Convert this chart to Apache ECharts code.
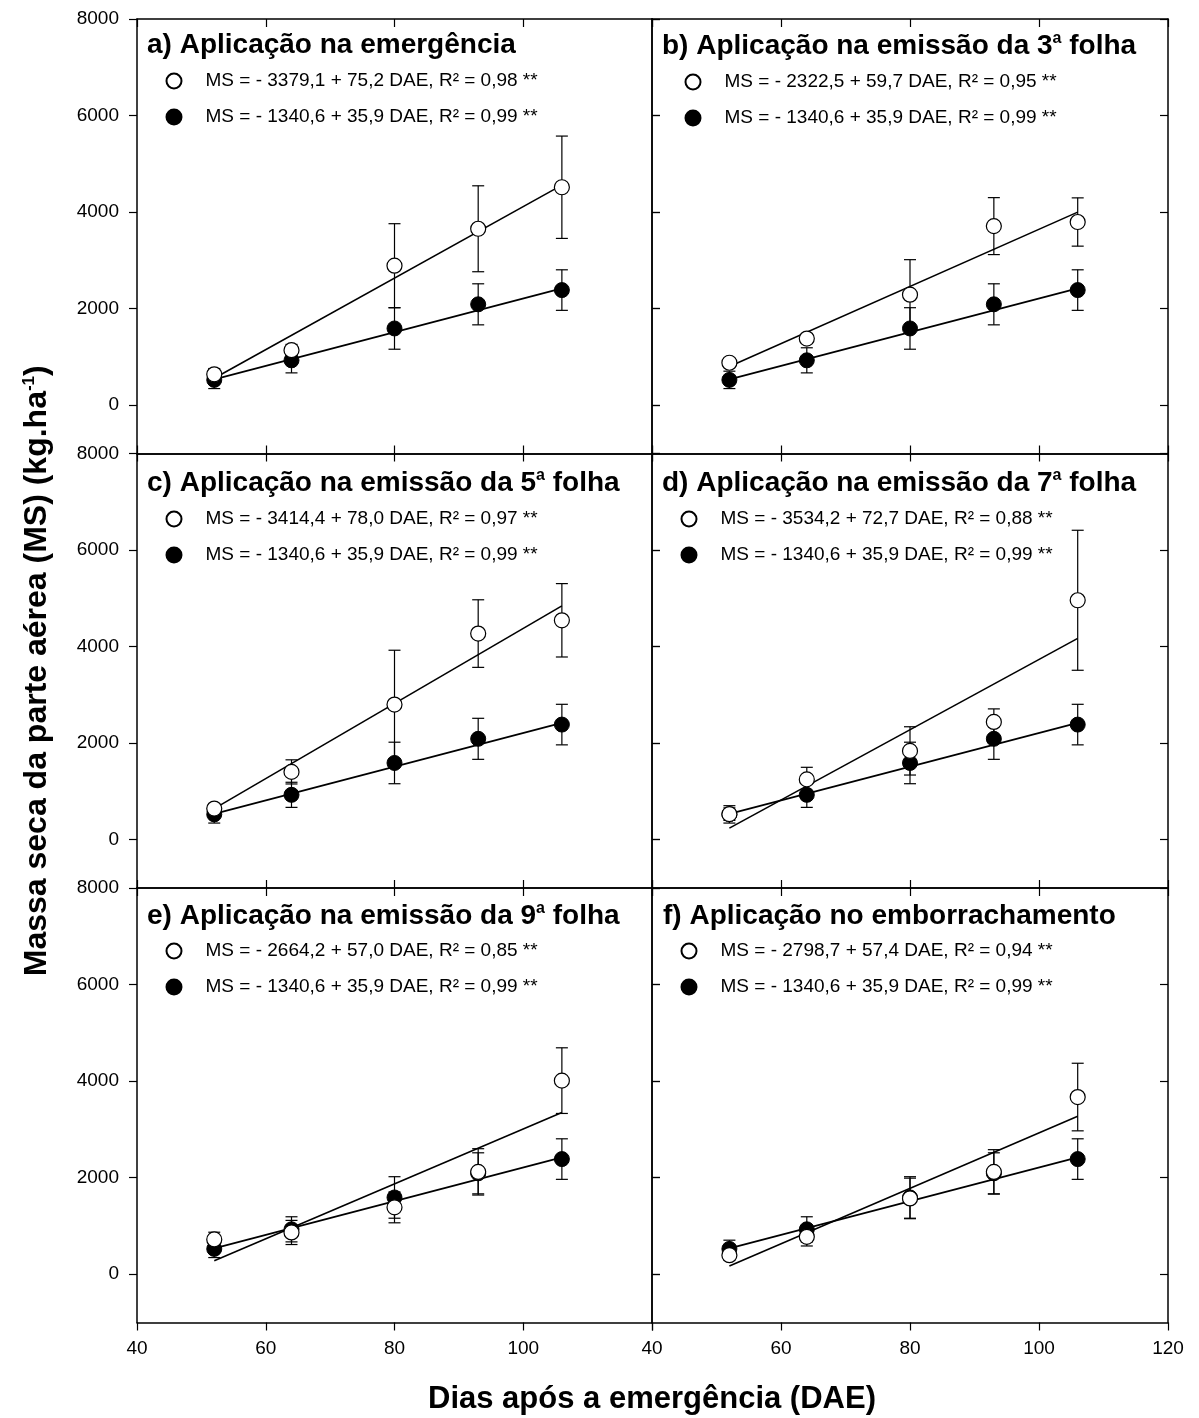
<!DOCTYPE html>
<html>
<head>
<meta charset="utf-8">
<script src="https://cdn.jsdelivr.net/npm/echarts@6/dist/echarts.min.js"></script>
<style>
  html, body { margin: 0; padding: 0; background: #fff; }
  #chart { width: 1199px; height: 1418px; }
</style>
</head>
<body>
<div id="chart"></div>
<script>
// dias apos a emergencia (DAE) where samples were taken
var dae = [52, 64, 80, 93, 106];

// testemunha (black dots), same in every panel
var ctrlMean = [525, 930, 1590, 2090, 2385];
var ctrlErr = [180, 260, 430, 425, 420];
var ctrlFit = [535, 2420];
var ctrlEq = 'MS = - 1340,6 + 35,9 DAE, R² = 0,99 **';

// treated (open dots), one array per panel
var meanA = [640, 1140, 2890, 3655, 4515];
var errA = [120, 120, 870, 890, 1060];
var meanB = [880, 1380, 2290, 3710, 3795];
var errB = [90, 100, 725, 590, 500];
var meanC = [645, 1405, 2800, 4270, 4545];
var errC = [100, 250, 1125, 700, 760];
var meanD = [530, 1250, 1840, 2440, 4960];
var errD = [130, 250, 500, 270, 1450];
var meanE = [720, 865, 1385, 2120, 4010];
var errE = [150, 250, 320, 480, 680];
var meanF = [395, 775, 1570, 2120, 3670];
var errF = [100, 190, 420, 460, 700];

// fitted line ends at 52 and 106 DAE
var fitA = [560, 4560];
var fitB = [800, 4000];
var fitC = [645, 4845];
var fitD = [240, 4170];
var fitE = [280, 3350];
var fitF = [170, 3270];

var panelTitles = [
    '{t|a) Aplicação na emergência}',
    '{t|b) Aplicação na emissão da 3}{sup|a}{t| folha}',
    '{t|c) Aplicação na emissão da 5}{sup|a}{t| folha}',
    '{t|d) Aplicação na emissão da 7}{sup|a}{t| folha}',
    '{t|e) Aplicação na emissão da 9}{sup|a}{t| folha}',
    '{t|f) Aplicação no emborrachamento}'
];
var panelEq = [
    'MS = - 3379,1 + 75,2 DAE, R² = 0,98 **',
    'MS = - 2322,5 + 59,7 DAE, R² = 0,95 **',
    'MS = - 3414,4 + 78,0 DAE, R² = 0,97 **',
    'MS = - 3534,2 + 72,7 DAE, R² = 0,88 **',
    'MS = - 2664,2 + 57,0 DAE, R² = 0,85 **',
    'MS = - 2798,7 + 57,4 DAE, R² = 0,94 **'
];
var yTicks = [0, 2000, 4000, 6000, 8000];

var means = [meanA, meanB, meanC, meanD, meanE, meanF];
var errs = [errA, errB, errC, errD, errE, errF];
var fits = [fitA, fitB, fitC, fitD, fitE, fitF];

var font = 'Liberation Sans, Arial, Helvetica, sans-serif';
var rowTop = [19, 453.5, 888];
var rowH = 434.5;
var colLeft = [137, 652];
var colW = [515, 516];
var titleLeft = [147, 662, 147, 662, 147, 663];
var titleMid = [45, 46, 483, 483, 916, 916];
var legLeft = [173, 692, 173, 688, 173, 688];
var legMid = [81, 82, 519, 519, 951, 951];

var chart = echarts.init(document.getElementById('chart'), null, {renderer: 'canvas'});

var renderErr = function (params, api) {
    var x = api.value(0);
    var p1 = api.coord([x, api.value(2)]);
    var p2 = api.coord([x, api.value(1)]);
    var w = 6;
    var st = {stroke: '#000', lineWidth: 1.2};
    return {
        type: 'group',
        children: [
            {type: 'line', shape: {x1: p1[0], y1: p1[1], x2: p2[0], y2: p2[1]}, style: st},
            {type: 'line', shape: {x1: p1[0] - w, y1: p1[1], x2: p1[0] + w, y2: p1[1]}, style: st},
            {type: 'line', shape: {x1: p2[0] - w, y1: p2[1], x2: p2[0] + w, y2: p2[1]}, style: st}
        ]
    };
};

var errData = function (m, e) {
    var out = [];
    for (var k = 0; k < dae.length; k++) {
        out.push([dae[k], m[k] - e[k], m[k] + e[k]]);
    }
    return out;
};
var ptData = function (m) {
    var out = [];
    for (var k = 0; k < dae.length; k++) {
        out.push([dae[k], m[k]]);
    }
    return out;
};

var grids = [], xAxes = [], yAxes = [], series = [], titles = [], legends = [];
var axisLine = {show: true, onZero: false, lineStyle: {color: '#000', width: 1.5}};

for (var i = 0; i < 6; i++) {
    var r = Math.floor(i / 2), c = i % 2;
    grids.push({left: colLeft[c], top: rowTop[r], width: colW[c], height: rowH});

    xAxes.push({
        gridIndex: i, type: 'value', min: 40, max: 120, interval: 20, position: 'bottom',
        axisLine: axisLine,
        axisTick: {show: true, inside: r < 2, length: 8, lineStyle: {color: '#000', width: 1.2}},
        axisLabel: {
            show: r == 2, fontSize: 19, color: '#000', fontFamily: font, margin: 17,
            formatter: (function (col) {
                return function (v) { return (col == 0 && v == 120) ? '' : String(v); };
            })(c)
        },
        splitLine: {show: false}
    });
    xAxes.push({
        gridIndex: i, type: 'value', min: 40, max: 120, interval: 20, position: 'top',
        axisLine: axisLine,
        axisTick: {show: true, inside: true, length: 8, lineStyle: {color: '#000', width: 1.2}},
        axisLabel: {show: false},
        splitLine: {show: false}
    });

    var yLeft = {
        gridIndex: i, type: 'value', min: -1000, max: 8000, position: 'left',
        axisLine: axisLine,
        axisTick: {show: true, inside: c == 1, length: 8, customValues: yTicks, lineStyle: {color: '#000', width: 1.2}},
        axisLabel: {
            show: c == 0, customValues: yTicks, fontSize: 19, color: '#000', fontFamily: font, margin: 18,
            formatter: function (v) { return String(v); }
        },
        splitLine: {show: false}
    };
    if (i == 2) {
        yLeft.name = 'Massa seca da parte aérea (MS) (kg.ha{sup|-1})';
        yLeft.nameLocation = 'middle';
        yLeft.nameRotate = 90;
        yLeft.nameGap = 84;
        yLeft.nameTextStyle = {
            fontSize: 32, fontWeight: 'bold', color: '#000', fontFamily: font,
            rich: {sup: {fontSize: 17, fontWeight: 'bold', fontFamily: font, color: '#000', verticalAlign: 'top', lineHeight: 16}}
        };
    }
    yAxes.push(yLeft);
    yAxes.push({
        gridIndex: i, type: 'value', min: -1000, max: 8000, position: 'right',
        axisLine: axisLine,
        axisTick: {show: true, inside: c == 1, length: 8, customValues: yTicks, lineStyle: {color: '#000', width: 1.2}},
        axisLabel: {show: false},
        splitLine: {show: false}
    });

    titles.push({
        text: panelTitles[i],
        left: titleLeft[i], top: titleMid[i] - 15, padding: 0,
        textStyle: {
            rich: {
                t: {fontSize: 28, fontWeight: 'bold', fontFamily: font, color: '#000', lineHeight: 30},
                sup: {fontSize: 16, fontWeight: 'bold', fontFamily: font, color: '#000', verticalAlign: 'top', lineHeight: 18}
            }
        }
    });

    legends.push({
        data: [panelEq[i], ctrlEq],
        orient: 'vertical',
        left: legLeft[i] - 7.5, top: legMid[i] - 9.5,
        padding: 0, itemGap: 17, itemWidth: 15, itemHeight: 15,
        selectedMode: false,
        textStyle: {fontSize: 19, fontFamily: font, color: '#000', lineHeight: 19, padding: [0, 0, 0, 19]}
    });

    var xi = i * 2, yi = i * 2;
    series.push({
        type: 'line', xAxisIndex: xi, yAxisIndex: yi, silent: true, symbol: 'none', z: 2,
        data: [[dae[0], fits[i][0]], [dae[4], fits[i][1]]],
        lineStyle: {color: '#000', width: 1.6}
    });
    series.push({
        type: 'line', xAxisIndex: xi, yAxisIndex: yi, silent: true, symbol: 'none', z: 2,
        data: [[dae[0], ctrlFit[0]], [dae[4], ctrlFit[1]]],
        lineStyle: {color: '#000', width: 1.6}
    });
    series.push({
        type: 'custom', xAxisIndex: xi, yAxisIndex: yi, silent: true, z: 3,
        renderItem: renderErr, encode: {x: 0, y: [1, 2]},
        data: errData(ctrlMean, ctrlErr)
    });
    series.push({
        type: 'custom', xAxisIndex: xi, yAxisIndex: yi, silent: true, z: 3,
        renderItem: renderErr, encode: {x: 0, y: [1, 2]},
        data: errData(means[i], errs[i])
    });
    series.push({
        name: ctrlEq, type: 'scatter', xAxisIndex: xi, yAxisIndex: yi, z: 4,
        symbol: 'circle', symbolSize: 15,
        itemStyle: {color: '#000', borderColor: '#000', borderWidth: 1, opacity: 1},
        data: ptData(ctrlMean)
    });
    series.push({
        name: panelEq[i], type: 'scatter', xAxisIndex: xi, yAxisIndex: yi, z: 5,
        symbol: 'circle', symbolSize: 15,
        itemStyle: {color: '#fff', borderColor: '#000', borderWidth: 1.2, opacity: 1},
        data: ptData(means[i])
    });
}

var option = {
    animation: false,
    backgroundColor: '#fff',
    textStyle: {fontFamily: font, color: '#000'},
    title: titles,
    legend: legends,
    grid: grids,
    xAxis: xAxes,
    yAxis: yAxes,
    series: series,
    graphic: [{
        type: 'text', x: 652, y: 1399,
        style: {
            text: 'Dias após a emergência (DAE)',
            fontSize: 31, fontWeight: 'bold', fontFamily: font, fill: '#000',
            textAlign: 'center', textVerticalAlign: 'middle'
        }
    }]
};
chart.setOption(option);
</script>
</body>
</html>
